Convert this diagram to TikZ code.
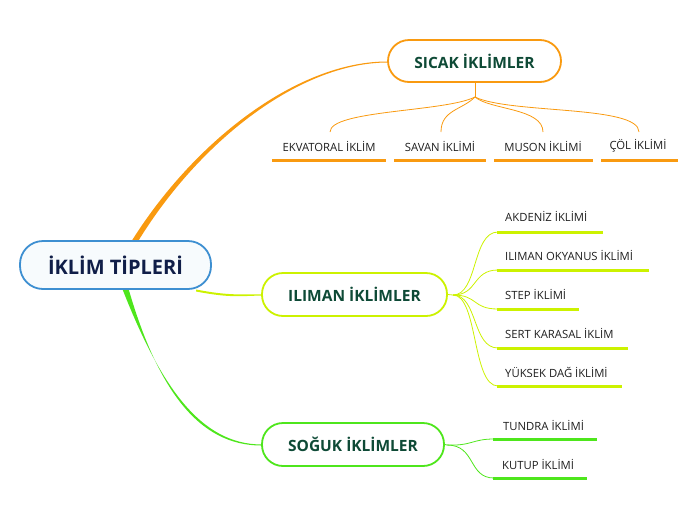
\documentclass[tikz,border=0pt]{standalone}
\usepackage{fontspec}
\setmainfont{Open Sans}
\definecolor{cOr}{HTML}{F99A10}
\definecolor{cYg}{HTML}{CCF200}
\definecolor{cGr}{HTML}{4EE61C}
\definecolor{cBl}{HTML}{3D8FD1}
\definecolor{cNavy}{HTML}{101E48}
\definecolor{cDkg}{HTML}{0E4A36}
\definecolor{cTx}{HTML}{1E1E1E}
\tikzset{
  mainbox/.style={draw=#1, line width=1.8pt, rounded corners=21pt, fill=white,
    font=\bfseries\fontsize{15.5}{18}\selectfont, text=cDkg, inner sep=0pt},
  leaf/.style={font=\fontsize{11.3}{13}\selectfont, text=cTx, inner sep=0pt},
  uline/.style={draw=#1, line width=3pt},
  thin/.style={draw=#1, line width=0.8pt},
}
\begin{document}
\begin{tikzpicture}[x=1pt,y=-1pt]
\useasboundingbox (0,0) rectangle (696,520);
% root-to-main tapered connectors
\fill[cOr] (131,242) .. controls (196,138) and (300,61) .. (388,61.5)
  -- (388,62.5) .. controls (300,62.5) and (199,141) .. (137,243) -- cycle;
\fill[cYg] (196,289.5) .. controls (230,296) and (240,294) .. (262,294.5)
  -- (262,295.5) .. controls (240,296) and (230,298) .. (196,291.5) -- cycle;
\fill[cGr] (122,288) .. controls (160,385) and (200,444.5) .. (262,444.5)
  -- (262,445.5) .. controls (198,446) and (157,388) .. (128,287) -- cycle;
% main nodes
\node[draw=cBl, line width=1.8pt, rounded corners=23pt, fill=cBl!4,
  minimum width=191pt, minimum height=48pt, inner sep=0pt,
  font=\bfseries\fontsize{20}{22}\selectfont, text=cNavy] (root) at (115.5,265) {İKLİM TİPLERİ};
\node[mainbox=cOr, minimum width=173pt, minimum height=42pt] (sicak) at (474.5,61) {SICAK İKLİMLER};
\node[mainbox=cYg, minimum width=185pt, minimum height=43pt] (iliman) at (354.5,294.5) {ILIMAN İKLİMLER};
\node[mainbox=cGr, minimum width=182pt, minimum height=43pt] (soguk) at (353,444.5) {SOĞUK İKLİMLER};
% SICAK children
\coordinate (sh) at (475,97);
\draw[thin=cOr] (sicak.south) ++(0.5,0) -- (sh);
\node[leaf] (ekv) at (329,146) {EKVATORAL İKLİM};
\node[leaf] (sav) at (440,146) {SAVAN İKLİMİ};
\node[leaf] (mus) at (543,146) {MUSON İKLİMİ};
\node[leaf] (col) at (638,146) {ÇÖL İKLİMİ};
\coordinate (ekvt) at (330,132);
\coordinate (savt) at (441,132);
\coordinate (must) at (543,132);
\coordinate (colt) at (639,132);
\draw[thin=cOr] (sh) .. controls (445,112) and (330,110) .. (ekvt);
\draw[thin=cOr] (sh) .. controls (462,110) and (441,110) .. (savt);
\draw[thin=cOr] (sh) .. controls (490,110) and (543,108) .. (must);
\draw[thin=cOr] (sh) .. controls (510,114) and (639,105) .. (colt);
\draw[uline=cOr] (272,160) -- (386,160);
\draw[uline=cOr] (394,160) -- (486,160);
\draw[uline=cOr] (494,160) -- (593,160);
\draw[uline=cOr] (601,160) -- (678,160);
% ILIMAN children
\coordinate (ih) at (453,295);
\node[leaf, anchor=west] (akd) at (505,216) {AKDENİZ İKLİMİ};
\node[leaf, anchor=west] (oky) at (505,255) {ILIMAN OKYANUS İKLİMİ};
\node[leaf, anchor=west] (stp) at (505,294) {STEP İKLİMİ};
\node[leaf, anchor=west] (srt) at (505,333) {SERT KARASAL İKLİM};
\node[leaf, anchor=west] (yuk) at (505,372) {YÜKSEK DAĞ İKLİMİ};
\draw[thin=cYg] (iliman.east) -- (ih);
\foreach \y/\e in {232/603, 270/649, 309/579, 348/628, 386/622}{
  \draw[thin=cYg] (ih) .. controls (478,295) and (472,\y) .. (498,\y);
  \draw[uline=cYg] (497,\y) -- (\e,\y);
}
% SOGUK children
\coordinate (gh) at (447,445);
\node[leaf, anchor=west] (tun) at (503,425) {TUNDRA İKLİMİ};
\node[leaf, anchor=west] (kut) at (502,464) {KUTUP İKLİMİ};
\draw[thin=cGr] (soguk.east) -- (gh);
\draw[thin=cGr] (gh) .. controls (472,446) and (472,439) .. (494,439);
\draw[thin=cGr] (gh) .. controls (476,445) and (468,478) .. (494,478);
\draw[uline=cGr] (493,439) -- (597,439);
\draw[uline=cGr] (493,478) -- (587,478);
\end{tikzpicture}
\end{document}
